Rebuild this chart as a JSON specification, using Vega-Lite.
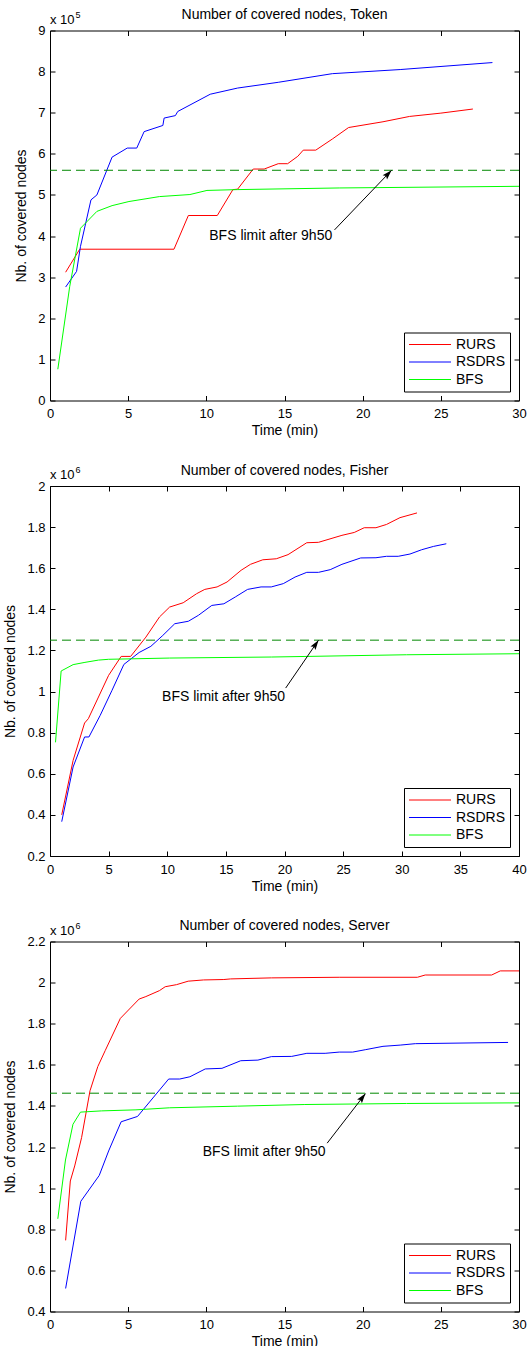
{
  "$schema": "https://vega.github.io/schema/vega-lite/v6.json",
  "background": "white",
  "padding": {"left": 3, "top": 7.5, "right": 5, "bottom": 0},
  "spacing": 24.5,
  "config": {
    "font": "Liberation Sans",
    "view": {"stroke": "black", "strokeWidth": 1},
    "title": {"fontSize": 14, "fontWeight": "normal", "color": "black", "anchor": "middle", "frame": "group", "offset": -11.5},
    "axis": {"grid": false, "ticks": true, "domain": false, "offset": -5, "tickColor": "black", "tickWidth": 1, "tickSize": 5, "labelFontSize": 13, "labelColor": "black", "titleFontSize": 14, "titleFontWeight": "normal", "titleColor": "black", "labelFlush": false, "labelOverlap": false},
    "axisX": {"labelPadding": 7, "titlePadding": 3},
    "axisY": {"labelPadding": 5, "titlePadding": 9},
    "legend": {"orient": "bottom-right", "offset": 9, "strokeColor": "black", "fillColor": "white", "padding": 4.5, "symbolType": "M-1,0H5", "symbolSize": 196, "symbolStrokeWidth": 1, "labelFontSize": 14, "labelColor": "black", "labelOffset": 32.5, "rowPadding": 2.5, "title": null}
  },
  "datasets": {
    "token": [
      {"series": "RURS", "time": 1.0, "nodes": 312000}, {"series": "RURS", "time": 1.9, "nodes": 368000}, {"series": "RURS", "time": 7.93, "nodes": 368000}, {"series": "RURS", "time": 8.85, "nodes": 450000}, {"series": "RURS", "time": 10.7, "nodes": 450000}, {"series": "RURS", "time": 11.7, "nodes": 513000}, {"series": "RURS", "time": 12.0, "nodes": 514000}, {"series": "RURS", "time": 13.0, "nodes": 563000}, {"series": "RURS", "time": 13.7, "nodes": 563000}, {"series": "RURS", "time": 14.6, "nodes": 576000}, {"series": "RURS", "time": 15.2, "nodes": 576000}, {"series": "RURS", "time": 15.85, "nodes": 594000}, {"series": "RURS", "time": 16.2, "nodes": 609000}, {"series": "RURS", "time": 17.0, "nodes": 609000}, {"series": "RURS", "time": 18.06, "nodes": 636000}, {"series": "RURS", "time": 19.1, "nodes": 664000}, {"series": "RURS", "time": 21.3, "nodes": 678000}, {"series": "RURS", "time": 23.0, "nodes": 691000}, {"series": "RURS", "time": 25.0, "nodes": 699000}, {"series": "RURS", "time": 27.05, "nodes": 709000},
      {"series": "RSDRS", "time": 1.0, "nodes": 276000}, {"series": "RSDRS", "time": 1.7, "nodes": 314000}, {"series": "RSDRS", "time": 1.95, "nodes": 375000}, {"series": "RSDRS", "time": 2.62, "nodes": 488000}, {"series": "RSDRS", "time": 3.0, "nodes": 500000}, {"series": "RSDRS", "time": 3.97, "nodes": 592000}, {"series": "RSDRS", "time": 4.94, "nodes": 614000}, {"series": "RSDRS", "time": 5.55, "nodes": 614000}, {"series": "RSDRS", "time": 6.02, "nodes": 654000}, {"series": "RSDRS", "time": 7.22, "nodes": 669000}, {"series": "RSDRS", "time": 7.3, "nodes": 687000}, {"series": "RSDRS", "time": 8.02, "nodes": 693000}, {"series": "RSDRS", "time": 8.17, "nodes": 703000}, {"series": "RSDRS", "time": 10.25, "nodes": 745000}, {"series": "RSDRS", "time": 12.0, "nodes": 760000}, {"series": "RSDRS", "time": 14.6, "nodes": 774000}, {"series": "RSDRS", "time": 18.06, "nodes": 795000}, {"series": "RSDRS", "time": 22.4, "nodes": 805000}, {"series": "RSDRS", "time": 28.3, "nodes": 822000},
      {"series": "BFS", "time": 0.5, "nodes": 76000}, {"series": "BFS", "time": 1.26, "nodes": 277000}, {"series": "BFS", "time": 1.95, "nodes": 419000}, {"series": "BFS", "time": 3.0, "nodes": 460000}, {"series": "BFS", "time": 3.97, "nodes": 474000}, {"series": "BFS", "time": 5.05, "nodes": 484000}, {"series": "BFS", "time": 7.0, "nodes": 496000}, {"series": "BFS", "time": 8.95, "nodes": 501000}, {"series": "BFS", "time": 10.04, "nodes": 511000}, {"series": "BFS", "time": 12.0, "nodes": 513000}, {"series": "BFS", "time": 18.5, "nodes": 517000}, {"series": "BFS", "time": 30, "nodes": 521000}
    ],
    "fisher": [
      {"series": "RURS", "time": 1.0, "nodes": 400000}, {"series": "RURS", "time": 1.97, "nodes": 665000}, {"series": "RURS", "time": 2.95, "nodes": 847000}, {"series": "RURS", "time": 3.27, "nodes": 868000}, {"series": "RURS", "time": 5.0, "nodes": 1079000}, {"series": "RURS", "time": 6.07, "nodes": 1171000}, {"series": "RURS", "time": 6.88, "nodes": 1171000}, {"series": "RURS", "time": 8.18, "nodes": 1265000}, {"series": "RURS", "time": 9.34, "nodes": 1363000}, {"series": "RURS", "time": 10.2, "nodes": 1411000}, {"series": "RURS", "time": 11.36, "nodes": 1432000}, {"series": "RURS", "time": 12.5, "nodes": 1476000}, {"series": "RURS", "time": 13.2, "nodes": 1497000}, {"series": "RURS", "time": 14.25, "nodes": 1509000}, {"series": "RURS", "time": 15.1, "nodes": 1533000}, {"series": "RURS", "time": 16.3, "nodes": 1590000}, {"series": "RURS", "time": 17.1, "nodes": 1619000}, {"series": "RURS", "time": 18.15, "nodes": 1641000}, {"series": "RURS", "time": 19.3, "nodes": 1646000}, {"series": "RURS", "time": 20.3, "nodes": 1666000}, {"series": "RURS", "time": 21.9, "nodes": 1724000}, {"series": "RURS", "time": 22.9, "nodes": 1726000}, {"series": "RURS", "time": 24.9, "nodes": 1760000}, {"series": "RURS", "time": 25.95, "nodes": 1774000}, {"series": "RURS", "time": 26.8, "nodes": 1797000}, {"series": "RURS", "time": 27.8, "nodes": 1797000}, {"series": "RURS", "time": 28.7, "nodes": 1813000}, {"series": "RURS", "time": 29.85, "nodes": 1846000}, {"series": "RURS", "time": 31.3, "nodes": 1869000},
      {"series": "RSDRS", "time": 1.0, "nodes": 367000}, {"series": "RSDRS", "time": 1.97, "nodes": 633000}, {"series": "RSDRS", "time": 2.95, "nodes": 779000}, {"series": "RSDRS", "time": 3.32, "nodes": 779000}, {"series": "RSDRS", "time": 4.28, "nodes": 884000}, {"series": "RSDRS", "time": 5.29, "nodes": 1006000}, {"series": "RSDRS", "time": 6.3, "nodes": 1132000}, {"series": "RSDRS", "time": 7.6, "nodes": 1190000}, {"series": "RSDRS", "time": 8.6, "nodes": 1220000}, {"series": "RSDRS", "time": 9.62, "nodes": 1273000}, {"series": "RSDRS", "time": 10.64, "nodes": 1330000}, {"series": "RSDRS", "time": 11.8, "nodes": 1342000}, {"series": "RSDRS", "time": 12.66, "nodes": 1371000}, {"series": "RSDRS", "time": 13.8, "nodes": 1419000}, {"series": "RSDRS", "time": 14.83, "nodes": 1427000}, {"series": "RSDRS", "time": 15.8, "nodes": 1460000}, {"series": "RSDRS", "time": 16.85, "nodes": 1497000}, {"series": "RSDRS", "time": 18.0, "nodes": 1509000}, {"series": "RSDRS", "time": 18.87, "nodes": 1509000}, {"series": "RSDRS", "time": 19.9, "nodes": 1525000}, {"series": "RSDRS", "time": 20.9, "nodes": 1557000}, {"series": "RSDRS", "time": 21.9, "nodes": 1580000}, {"series": "RSDRS", "time": 22.9, "nodes": 1580000}, {"series": "RSDRS", "time": 23.9, "nodes": 1593000}, {"series": "RSDRS", "time": 24.9, "nodes": 1619000}, {"series": "RSDRS", "time": 26.5, "nodes": 1650000}, {"series": "RSDRS", "time": 27.8, "nodes": 1651000}, {"series": "RSDRS", "time": 28.7, "nodes": 1658000}, {"series": "RSDRS", "time": 29.7, "nodes": 1658000}, {"series": "RSDRS", "time": 30.7, "nodes": 1669000}, {"series": "RSDRS", "time": 31.7, "nodes": 1690000}, {"series": "RSDRS", "time": 32.7, "nodes": 1706000}, {"series": "RSDRS", "time": 33.8, "nodes": 1719000},
      {"series": "BFS", "time": 0.47, "nodes": 753000}, {"series": "BFS", "time": 0.95, "nodes": 1100000}, {"series": "BFS", "time": 1.97, "nodes": 1131000}, {"series": "BFS", "time": 2.98, "nodes": 1142000}, {"series": "BFS", "time": 4.13, "nodes": 1153000}, {"series": "BFS", "time": 5.0, "nodes": 1157000}, {"series": "BFS", "time": 10.2, "nodes": 1163000}, {"series": "BFS", "time": 18.9, "nodes": 1168000}, {"series": "BFS", "time": 30.4, "nodes": 1179000}, {"series": "BFS", "time": 40, "nodes": 1184000}
    ],
    "server": [
      {"series": "RURS", "time": 1.0, "nodes": 746000}, {"series": "RURS", "time": 1.3, "nodes": 1035000}, {"series": "RURS", "time": 1.58, "nodes": 1108000}, {"series": "RURS", "time": 2.02, "nodes": 1246000}, {"series": "RURS", "time": 2.56, "nodes": 1474000}, {"series": "RURS", "time": 3.06, "nodes": 1592000}, {"series": "RURS", "time": 3.53, "nodes": 1669000}, {"series": "RURS", "time": 4.5, "nodes": 1826000}, {"series": "RURS", "time": 5.7, "nodes": 1920000}, {"series": "RURS", "time": 6.13, "nodes": 1932000}, {"series": "RURS", "time": 7.0, "nodes": 1961000}, {"series": "RURS", "time": 7.37, "nodes": 1980000}, {"series": "RURS", "time": 8.09, "nodes": 1990000}, {"series": "RURS", "time": 8.84, "nodes": 2007000}, {"series": "RURS", "time": 9.82, "nodes": 2013000}, {"series": "RURS", "time": 11.12, "nodes": 2015000}, {"series": "RURS", "time": 11.55, "nodes": 2018000}, {"series": "RURS", "time": 14.16, "nodes": 2023000}, {"series": "RURS", "time": 18.5, "nodes": 2026000}, {"series": "RURS", "time": 23.5, "nodes": 2026000}, {"series": "RURS", "time": 24.0, "nodes": 2037000}, {"series": "RURS", "time": 28.25, "nodes": 2037000}, {"series": "RURS", "time": 28.8, "nodes": 2057000}, {"series": "RURS", "time": 30, "nodes": 2057000},
      {"series": "RSDRS", "time": 1.0, "nodes": 512000}, {"series": "RSDRS", "time": 1.97, "nodes": 936000}, {"series": "RSDRS", "time": 3.15, "nodes": 1062000}, {"series": "RSDRS", "time": 3.75, "nodes": 1181000}, {"series": "RSDRS", "time": 4.55, "nodes": 1323000}, {"series": "RSDRS", "time": 5.6, "nodes": 1349000}, {"series": "RSDRS", "time": 7.59, "nodes": 1531000}, {"series": "RSDRS", "time": 8.3, "nodes": 1531000}, {"series": "RSDRS", "time": 8.95, "nodes": 1542000}, {"series": "RSDRS", "time": 9.93, "nodes": 1580000}, {"series": "RSDRS", "time": 11.0, "nodes": 1583000}, {"series": "RSDRS", "time": 12.2, "nodes": 1620000}, {"series": "RSDRS", "time": 13.3, "nodes": 1623000}, {"series": "RSDRS", "time": 14.16, "nodes": 1640000}, {"series": "RSDRS", "time": 15.46, "nodes": 1641000}, {"series": "RSDRS", "time": 16.43, "nodes": 1656000}, {"series": "RSDRS", "time": 17.6, "nodes": 1656000}, {"series": "RSDRS", "time": 18.5, "nodes": 1662000}, {"series": "RSDRS", "time": 19.36, "nodes": 1662000}, {"series": "RSDRS", "time": 20.2, "nodes": 1674000}, {"series": "RSDRS", "time": 21.3, "nodes": 1690000}, {"series": "RSDRS", "time": 22.4, "nodes": 1696000}, {"series": "RSDRS", "time": 23.37, "nodes": 1703000}, {"series": "RSDRS", "time": 29.3, "nodes": 1709000},
      {"series": "BFS", "time": 0.5, "nodes": 851000}, {"series": "BFS", "time": 0.99, "nodes": 1137000}, {"series": "BFS", "time": 1.47, "nodes": 1311000}, {"series": "BFS", "time": 1.95, "nodes": 1370000}, {"series": "BFS", "time": 3.3, "nodes": 1376000}, {"series": "BFS", "time": 5.5, "nodes": 1381000}, {"series": "BFS", "time": 7.65, "nodes": 1391000}, {"series": "BFS", "time": 12.0, "nodes": 1399000}, {"series": "BFS", "time": 16.3, "nodes": 1407000}, {"series": "BFS", "time": 22.8, "nodes": 1412000}, {"series": "BFS", "time": 30, "nodes": 1415000}
    ]
  },
  "vconcat": [
    {
      "width": 469, "height": 370,
      "title": "Number of covered nodes, Token",
      "layer": [
        {"data": {"name": "token"}, "mark": {"type": "line", "strokeWidth": 1},
         "encoding": {
           "x": {"field": "time", "type": "quantitative", "scale": {"domain": [0, 30], "nice": false, "zero": false}, "axis": {"values": [0, 5, 10, 15, 20, 25, 30], "title": "Time (min)"}},
           "y": {"field": "nodes", "type": "quantitative", "scale": {"domain": [0, 900000], "nice": false}, "axis": {"values": [0, 100000, 200000, 300000, 400000, 500000, 600000, 700000, 800000, 900000], "labelExpr": "format(datum.value/1e5, '.1~f')", "title": "Nb. of covered nodes"}},
           "color": {"field": "series", "type": "nominal", "scale": {"domain": ["RURS", "RSDRS", "BFS"], "range": ["#ff0000", "#0000ff", "#00ff00"]}}
         }},
        {"data": {"values": [{"limit": 560000}]}, "mark": {"type": "rule", "color": "#008800", "strokeWidth": 1, "strokeDash": [9, 5]},
         "encoding": {"y": {"field": "limit", "type": "quantitative", "axis": null}}},
        {"data": {"values": [{"t1": 18.2, "n1": 415000, "t2": 21.85, "n2": 560000}]}, "mark": {"type": "rule", "color": "black", "strokeWidth": 1},
         "encoding": {
           "x": {"field": "t1", "type": "quantitative", "axis": {"orient": "top", "labels": false, "title": null, "values": [0, 5, 10, 15, 20, 25, 30]}},
           "y": {"field": "n1", "type": "quantitative", "axis": {"orient": "right", "labels": false, "title": null, "values": [0, 100000, 200000, 300000, 400000, 500000, 600000, 700000, 800000, 900000]}},
           "x2": {"field": "t2"}, "y2": {"field": "n2"}
         }},
        {"data": {"values": [{"t2": 21.85, "n2": 560000}]}, "mark": {"type": "point", "shape": "M0,0L-0.5,1.6L0,1.3L0.5,1.6Z", "filled": true, "color": "black", "opacity": 1, "size": 150, "angle": 43.7},
         "encoding": {"x": {"field": "t2", "type": "quantitative", "axis": null}, "y": {"field": "n2", "type": "quantitative", "axis": null}}},
        {"data": {"values": [{"t": 14.12, "n": 400000, "label": "BFS limit after 9h50"}]}, "mark": {"type": "text", "fontSize": 14, "align": "center", "baseline": "middle", "color": "black"},
         "encoding": {"x": {"field": "t", "type": "quantitative", "axis": null}, "y": {"field": "n", "type": "quantitative", "axis": null}, "text": {"field": "label"}}},
        {"data": {"values": [{"t": 0, "n": 900000, "label": "x 10", "exp": "5"}]}, "mark": {"type": "text", "fontSize": 13, "align": "left", "baseline": "alphabetic", "dy": -7, "color": "black"},
         "encoding": {"x": {"field": "t", "type": "quantitative", "axis": null}, "y": {"field": "n", "type": "quantitative", "axis": null}, "text": {"field": "label"}}},
        {"data": {"values": [{"t": 0, "n": 900000, "label": "x 10", "exp": "5"}]}, "mark": {"type": "text", "fontSize": 9, "align": "left", "baseline": "alphabetic", "dx": 25.5, "dy": -13, "color": "black"},
         "encoding": {"x": {"field": "t", "type": "quantitative", "axis": null}, "y": {"field": "n", "type": "quantitative", "axis": null}, "text": {"field": "exp"}}}
      ],
      "resolve": {"axis": {"x": "independent", "y": "independent"}}
    },
    {
      "width": 469, "height": 370,
      "title": "Number of covered nodes, Fisher",
      "layer": [
        {"data": {"name": "fisher"}, "mark": {"type": "line", "strokeWidth": 1},
         "encoding": {
           "x": {"field": "time", "type": "quantitative", "scale": {"domain": [0, 40], "nice": false, "zero": false}, "axis": {"values": [0, 5, 10, 15, 20, 25, 30, 35, 40], "title": "Time (min)"}},
           "y": {"field": "nodes", "type": "quantitative", "scale": {"domain": [200000, 2000000], "nice": false, "zero": false}, "axis": {"values": [200000, 400000, 600000, 800000, 1000000, 1200000, 1400000, 1600000, 1800000, 2000000], "labelExpr": "format(datum.value/1e6, '.1~f')", "title": "Nb. of covered nodes"}},
           "color": {"field": "series", "type": "nominal", "scale": {"domain": ["RURS", "RSDRS", "BFS"], "range": ["#ff0000", "#0000ff", "#00ff00"]}}
         }},
        {"data": {"values": [{"limit": 1250000}]}, "mark": {"type": "rule", "color": "#008800", "strokeWidth": 1, "strokeDash": [9, 5]},
         "encoding": {"y": {"field": "limit", "type": "quantitative", "axis": null}}},
        {"data": {"values": [{"t1": 20.1, "n1": 1017000, "t2": 22.9, "n2": 1250000}]}, "mark": {"type": "rule", "color": "black", "strokeWidth": 1},
         "encoding": {
           "x": {"field": "t1", "type": "quantitative", "axis": {"orient": "top", "labels": false, "title": null, "values": [0, 5, 10, 15, 20, 25, 30, 35, 40]}},
           "y": {"field": "n1", "type": "quantitative", "axis": {"orient": "right", "labels": false, "title": null, "values": [200000, 400000, 600000, 800000, 1000000, 1200000, 1400000, 1600000, 1800000, 2000000]}},
           "x2": {"field": "t2"}, "y2": {"field": "n2"}
         }},
        {"data": {"values": [{"t2": 22.9, "n2": 1250000}]}, "mark": {"type": "point", "shape": "M0,0L-0.5,1.6L0,1.3L0.5,1.6Z", "filled": true, "color": "black", "opacity": 1, "size": 150, "angle": 34.4},
         "encoding": {"x": {"field": "t2", "type": "quantitative", "axis": null}, "y": {"field": "n2", "type": "quantitative", "axis": null}}},
        {"data": {"values": [{"t": 14.8, "n": 973000, "label": "BFS limit after 9h50"}]}, "mark": {"type": "text", "fontSize": 14, "align": "center", "baseline": "middle", "color": "black"},
         "encoding": {"x": {"field": "t", "type": "quantitative", "axis": null}, "y": {"field": "n", "type": "quantitative", "axis": null}, "text": {"field": "label"}}},
        {"data": {"values": [{"t": 0, "n": 2000000, "label": "x 10", "exp": "6"}]}, "mark": {"type": "text", "fontSize": 13, "align": "left", "baseline": "alphabetic", "dy": -7, "color": "black"},
         "encoding": {"x": {"field": "t", "type": "quantitative", "axis": null}, "y": {"field": "n", "type": "quantitative", "axis": null}, "text": {"field": "label"}}},
        {"data": {"values": [{"t": 0, "n": 2000000, "label": "x 10", "exp": "6"}]}, "mark": {"type": "text", "fontSize": 9, "align": "left", "baseline": "alphabetic", "dx": 25.5, "dy": -13, "color": "black"},
         "encoding": {"x": {"field": "t", "type": "quantitative", "axis": null}, "y": {"field": "n", "type": "quantitative", "axis": null}, "text": {"field": "exp"}}}
      ],
      "resolve": {"axis": {"x": "independent", "y": "independent"}}
    },
    {
      "width": 469, "height": 370,
      "title": "Number of covered nodes, Server",
      "layer": [
        {"data": {"name": "server"}, "mark": {"type": "line", "strokeWidth": 1},
         "encoding": {
           "x": {"field": "time", "type": "quantitative", "scale": {"domain": [0, 30], "nice": false, "zero": false}, "axis": {"values": [0, 5, 10, 15, 20, 25, 30], "title": "Time (min)"}},
           "y": {"field": "nodes", "type": "quantitative", "scale": {"domain": [400000, 2200000], "nice": false, "zero": false}, "axis": {"values": [400000, 600000, 800000, 1000000, 1200000, 1400000, 1600000, 1800000, 2000000, 2200000], "labelExpr": "format(datum.value/1e6, '.1~f')", "title": "Nb. of covered nodes"}},
           "color": {"field": "series", "type": "nominal", "scale": {"domain": ["RURS", "RSDRS", "BFS"], "range": ["#ff0000", "#0000ff", "#00ff00"]}}
         }},
        {"data": {"values": [{"limit": 1462000}]}, "mark": {"type": "rule", "color": "#008800", "strokeWidth": 1, "strokeDash": [9, 5]},
         "encoding": {"y": {"field": "limit", "type": "quantitative", "axis": null}}},
        {"data": {"values": [{"t1": 17.73, "n1": 1219000, "t2": 20.18, "n2": 1460000}]}, "mark": {"type": "rule", "color": "black", "strokeWidth": 1},
         "encoding": {
           "x": {"field": "t1", "type": "quantitative", "axis": {"orient": "top", "labels": false, "title": null, "values": [0, 5, 10, 15, 20, 25, 30]}},
           "y": {"field": "n1", "type": "quantitative", "axis": {"orient": "right", "labels": false, "title": null, "values": [400000, 600000, 800000, 1000000, 1200000, 1400000, 1600000, 1800000, 2000000, 2200000]}},
           "x2": {"field": "t2"}, "y2": {"field": "n2"}
         }},
        {"data": {"values": [{"t2": 20.18, "n2": 1460000}]}, "mark": {"type": "point", "shape": "M0,0L-0.5,1.6L0,1.3L0.5,1.6Z", "filled": true, "color": "black", "opacity": 1, "size": 150, "angle": 37.7},
         "encoding": {"x": {"field": "t2", "type": "quantitative", "axis": null}, "y": {"field": "n2", "type": "quantitative", "axis": null}}},
        {"data": {"values": [{"t": 13.7, "n": 1176000, "label": "BFS limit after 9h50"}]}, "mark": {"type": "text", "fontSize": 14, "align": "center", "baseline": "middle", "color": "black"},
         "encoding": {"x": {"field": "t", "type": "quantitative", "axis": null}, "y": {"field": "n", "type": "quantitative", "axis": null}, "text": {"field": "label"}}},
        {"data": {"values": [{"t": 0, "n": 2200000, "label": "x 10", "exp": "6"}]}, "mark": {"type": "text", "fontSize": 13, "align": "left", "baseline": "alphabetic", "dy": -7, "color": "black"},
         "encoding": {"x": {"field": "t", "type": "quantitative", "axis": null}, "y": {"field": "n", "type": "quantitative", "axis": null}, "text": {"field": "label"}}},
        {"data": {"values": [{"t": 0, "n": 2200000, "label": "x 10", "exp": "6"}]}, "mark": {"type": "text", "fontSize": 9, "align": "left", "baseline": "alphabetic", "dx": 25.5, "dy": -13, "color": "black"},
         "encoding": {"x": {"field": "t", "type": "quantitative", "axis": null}, "y": {"field": "n", "type": "quantitative", "axis": null}, "text": {"field": "exp"}}}
      ],
      "resolve": {"axis": {"x": "independent", "y": "independent"}}
    }
  ],
  "resolve": {"scale": {"color": "independent"}, "legend": {"color": "independent"}}
}
